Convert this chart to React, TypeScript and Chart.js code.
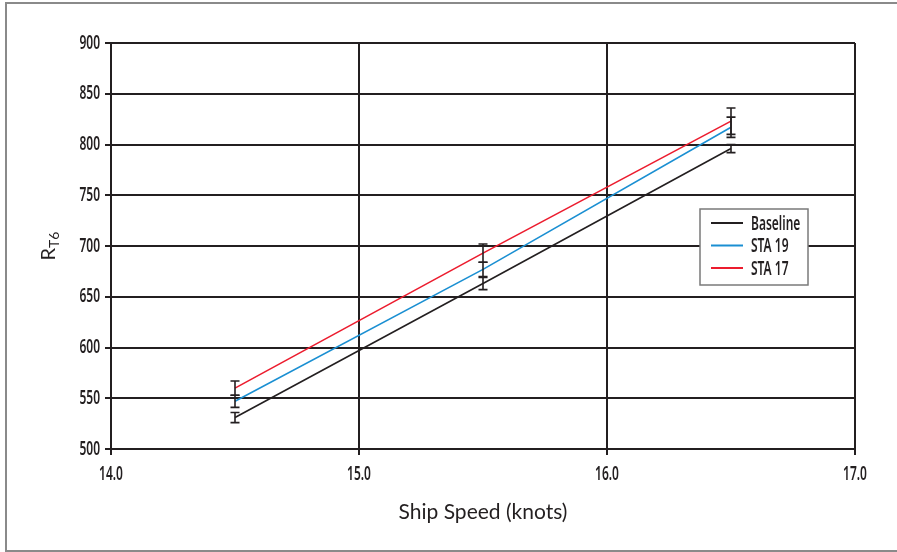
import React, { useEffect, useRef } from "react";
import { Chart, registerables } from "chart.js";

Chart.register(...registerables);

// Ship speed (knots) and total resistance R_T6 for each hull configuration
const speeds = [14.5, 15.5, 16.5];
const baseline = [531, 663, 796];
const sta19 = [547, 677, 817];
const sta17 = [560, 693, 823];

// Half-width of the error bar at each speed
const baselineErr = [5, 6, 4];
const sta19Err = [6, 7, 10];
const sta17Err = [7, 9, 13];

const seriesLabels = ["Baseline", "STA 19", "STA 17"];
const seriesColors = ["#231f20", "#1a8fd2", "#ec1c2e"];

const xTitle = "Ship Speed (knots)";
const yTitleMain = "R";
const yTitleSub = "T6";

const ink = "#231f20";
const labelFamily = "'Noto Sans', 'DejaVu Sans', sans-serif";
const titleFamily = "Lato, 'Open Sans', sans-serif";
const labelSize = 20;
const squeeze = 0.6;

// Narrow label text: normal font squeezed horizontally around its anchor
function condensedText(
  ctx: CanvasRenderingContext2D,
  text: string,
  x: number,
  y: number,
  align: "left" | "right" | "center"
) {
  ctx.save();
  ctx.font = `600 ${labelSize}px ${labelFamily}`;
  ctx.fillStyle = ink;
  ctx.textBaseline = "middle";
  ctx.textAlign = align;
  ctx.translate(x, y);
  ctx.scale(squeeze, 1);
  ctx.fillText(text, 0, 0);
  ctx.restore();
}

export default function App() {
  const canvasRef = useRef<HTMLCanvasElement | null>(null);

  useEffect(() => {
    document.body.style.margin = "0";
    const canvas = canvasRef.current;
    if (!canvas) return;

    const errors = [baselineErr, sta19Err, sta17Err];

    const decorations = {
      id: "decorations",
      afterDatasetsDraw(chart: any) {
        const { ctx, scales } = chart;
        const x = scales.x;
        const y = scales.y;
        ctx.save();
        // error bars
        ctx.strokeStyle = ink;
        ctx.lineWidth = 1.6;
        chart.data.datasets.forEach((ds: any, di: number) => {
          ds.data.forEach((p: any, i: number) => {
            const px = x.getPixelForValue(p.x);
            const top = y.getPixelForValue(p.y + errors[di][i]);
            const bot = y.getPixelForValue(p.y - errors[di][i]);
            ctx.beginPath();
            ctx.moveTo(px, top);
            ctx.lineTo(px, bot);
            ctx.moveTo(px - 4.5, top);
            ctx.lineTo(px + 4.5, top);
            ctx.moveTo(px - 4.5, bot);
            ctx.lineTo(px + 4.5, bot);
            ctx.stroke();
          });
        });
        ctx.restore();
      },
      afterDraw(chart: any) {
        const { ctx, chartArea, scales } = chart;

        // tick labels
        scales.y.ticks.forEach((t: any) => {
          condensedText(ctx, String(t.value), 100, scales.y.getPixelForValue(t.value), "right");
        });
        scales.x.ticks.forEach((t: any) => {
          condensedText(ctx, Number(t.value).toFixed(1), scales.x.getPixelForValue(t.value), 474, "center");
        });

        ctx.save();
        // outer frame
        ctx.strokeStyle = "#8a8a8a";
        ctx.lineWidth = 2;
        ctx.strokeRect(6, 3, 900, 548);

        // legend
        const lx = 700;
        const ly = 209;
        ctx.fillStyle = "#ffffff";
        ctx.fillRect(lx, ly, 108, 76);
        ctx.strokeStyle = "#7a7a7a";
        ctx.lineWidth = 1.5;
        ctx.strokeRect(lx, ly, 108, 76);
        chart.data.datasets.forEach((ds: any, i: number) => {
          const rowY = 223 + i * 22.5;
          ctx.strokeStyle = ds.borderColor;
          ctx.lineWidth = 2;
          ctx.beginPath();
          ctx.moveTo(711, rowY);
          ctx.lineTo(743, rowY);
          ctx.stroke();
          condensedText(ctx, ds.label, 751, rowY + 1, "left");
        });

        // x-axis title
        ctx.fillStyle = ink;
        ctx.font = `21px ${titleFamily}`;
        ctx.textAlign = "center";
        ctx.textBaseline = "middle";
        ctx.fillText(xTitle, (chartArea.left + chartArea.right) / 2, 512);

        // y-axis title with subscript
        ctx.translate(49, (chartArea.top + chartArea.bottom) / 2);
        ctx.rotate(-Math.PI / 2);
        ctx.font = `20px ${titleFamily}`;
        const wMain = ctx.measureText(yTitleMain).width;
        ctx.font = `14px ${titleFamily}`;
        const wSub = ctx.measureText(yTitleSub).width;
        const start = -(wMain + wSub) / 2;
        ctx.textAlign = "left";
        ctx.textBaseline = "alphabetic";
        ctx.font = `20px ${titleFamily}`;
        ctx.fillText(yTitleMain, start, 6);
        ctx.font = `14px ${titleFamily}`;
        ctx.fillText(yTitleSub, start + wMain, 10);
        ctx.restore();
      },
    };

    const makeSet = (values: number[], i: number) => ({
      label: seriesLabels[i],
      data: speeds.map((s, k) => ({ x: s, y: values[k] })),
      borderColor: seriesColors[i],
      backgroundColor: seriesColors[i],
      borderWidth: 1.6,
      pointRadius: 0,
      tension: 0,
    });

    const chart = new Chart(canvas, {
      type: "line",
      data: {
        datasets: [makeSet(baseline, 0), makeSet(sta19, 1), makeSet(sta17, 2)],
      },
      options: {
        responsive: false,
        animation: false,
        layout: { padding: { top: 43, right: 42, left: 0, bottom: 0 } },
        plugins: {
          legend: { display: false },
          tooltip: { enabled: false },
        },
        scales: {
          x: {
            type: "linear",
            min: 14,
            max: 17,
            afterFit: (s: any) => {
              s.height = 103;
            },
            ticks: { stepSize: 1, display: false },
            grid: { color: ink, lineWidth: 2, tickLength: 6 },
            border: { color: ink, width: 2 },
          },
          y: {
            type: "linear",
            min: 500,
            max: 900,
            afterFit: (s: any) => {
              s.width = 111;
            },
            ticks: { stepSize: 50, display: false },
            grid: { color: ink, lineWidth: 2, tickLength: 6 },
            border: { color: ink, width: 2 },
          },
        },
      },
      plugins: [decorations],
    });

    return () => chart.destroy();
  }, []);

  return <canvas ref={canvasRef} width={897} height={552} style={{ display: "block" }} />;
}
